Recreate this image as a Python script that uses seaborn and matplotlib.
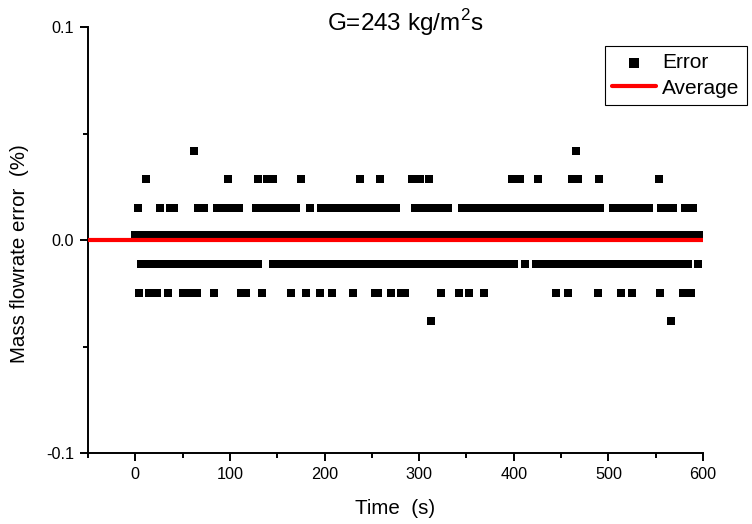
import numpy as np
import pandas as pd
import matplotlib
matplotlib.use("Agg")
import matplotlib.pyplot as plt
import seaborn as sns
from matplotlib.ticker import FixedLocator

# ---------------- data ----------------
# discrete error levels (%) seen in the plot
lvl_p0418 = 0.0418
lvl_p0285 = 0.0285
lvl_p0152 = 0.0152
lvl_p0022 = 0.0022
lvl_m0113 = -0.0113
lvl_m0247 = -0.0247
lvl_m0380 = -0.0380

# isolated samples (time, s) on each level
times_p0418 = [62, 466]
times_p0285 = [11, 98, 130, 139, 145, 175, 238, 259, 292, 301, 310,
               398, 407, 426, 462, 468, 490, 553]
times_p0152 = [2.5, 26, 37, 41, 66, 73, 185]
times_m0113 = [412, 595]
times_m0247 = [4, 14, 23, 35, 50, 58, 65, 83, 112, 117, 134, 165, 180, 195,
               208, 230, 253, 256, 270, 281, 285, 323, 342, 353, 369, 445,
               457, 489, 513, 525, 555, 579, 587]
times_m0380 = [313, 566]

# continuous runs of samples (start, end in s) on the dense levels
sample_step = 2
runs_p0152 = [(86, 110), (128, 171), (196, 276), (296, 330), (345, 492),
              (505, 543), (556, 568), (581, 590)]
runs_p0022 = [(0, 596)]
runs_m0113 = [(6, 131), (146, 401), (424, 584)]

avg_time = [-50, 600]
avg_value = [0.0, 0.0]

xticks = [0, 100, 200, 300, 400, 500, 600]
yticks = [-0.1, 0.0, 0.1]
ytick_labels = ["-0.1", "0.0", "0.1"]

# ---------------- assemble table ----------------
def expand(runs):
    out = []
    for a, b in runs:
        out.extend(np.arange(a, b + 0.001, sample_step).tolist())
    return out

rows = []
for lvl, pts, runs in [
    (lvl_p0418, times_p0418, []),
    (lvl_p0285, times_p0285, []),
    (lvl_p0152, times_p0152, runs_p0152),
    (lvl_p0022, [], runs_p0022),
    (lvl_m0113, times_m0113, runs_m0113),
    (lvl_m0247, times_m0247, []),
    (lvl_m0380, times_m0380, []),
]:
    for t in list(pts) + expand(runs):
        rows.append((t, lvl))
df = pd.DataFrame(rows, columns=["time", "error"])

# ---------------- style ----------------
sns.set_style("ticks")
plt.rcParams["font.family"] = ["Liberation Sans", "DejaVu Sans"]
plt.rcParams["mathtext.fontset"] = "custom"
plt.rcParams["mathtext.rm"] = "Liberation Sans"
plt.rcParams["axes.unicode_minus"] = False
plt.rcParams["text.color"] = "black"
plt.rcParams["axes.labelcolor"] = "black"
plt.rcParams["xtick.color"] = "black"
plt.rcParams["ytick.color"] = "black"

fig = plt.figure(figsize=(7.52, 5.24), dpi=100)
ax = fig.add_axes([88 / 752, 71 / 524, 615 / 752, 426 / 524])

sns.scatterplot(data=df, x="time", y="error", marker="s", color="black",
                s=38, linewidth=0, label="Error", ax=ax, zorder=2)
sns.lineplot(x=avg_time, y=avg_value, color="red", linewidth=3,
             label="Average", ax=ax, zorder=3)

ax.set_xlim(-50, 600)
ax.set_ylim(-0.1, 0.1)
ax.xaxis.set_major_locator(FixedLocator(xticks))
ax.xaxis.set_minor_locator(FixedLocator([-50, 50, 150, 250, 350, 450, 550]))
ax.set_yticks(yticks)
ax.set_yticklabels(ytick_labels)
ax.yaxis.set_minor_locator(FixedLocator([-0.05, 0.05]))

for side in ["top", "right"]:
    ax.spines[side].set_visible(False)
for side in ["left", "bottom"]:
    ax.spines[side].set_linewidth(1.4)
    ax.spines[side].set_color("black")

ax.tick_params(which="major", direction="out", length=6, width=1.4,
               labelsize=11.7, pad=4, colors="black")
ax.tick_params(which="minor", direction="out", length=3.5, width=1.4,
               colors="black")

ax.set_xlabel("Time  (s)", fontsize=14.8, color="black")
ax.set_ylabel("Mass flowrate error  (%)", fontsize=14.8, color="black")
ax.xaxis.set_label_coords(0.5, -0.108)
ax.yaxis.set_label_coords(-0.096, 0.467)

fig.text(405 / 752, 1 - 23 / 524, "G=243 kg/m$^2$s", ha="center",
         va="center", fontsize=17.5, color="black")

leg = ax.legend(loc="upper right", bbox_to_anchor=(747 / 752, 1 - 46 / 524),
                bbox_transform=fig.transFigure, frameon=True, fancybox=False,
                edgecolor="black", fontsize=15, handlelength=2.1,
                handletextpad=0.3, borderpad=0.35, labelspacing=0.3,
                borderaxespad=0, markerscale=1.15)
leg.get_frame().set_linewidth(0.8)
leg.get_frame().set_alpha(1)
for txt in leg.get_texts():
    txt.set_color("black")

fig.savefig("out.png", dpi=100)
